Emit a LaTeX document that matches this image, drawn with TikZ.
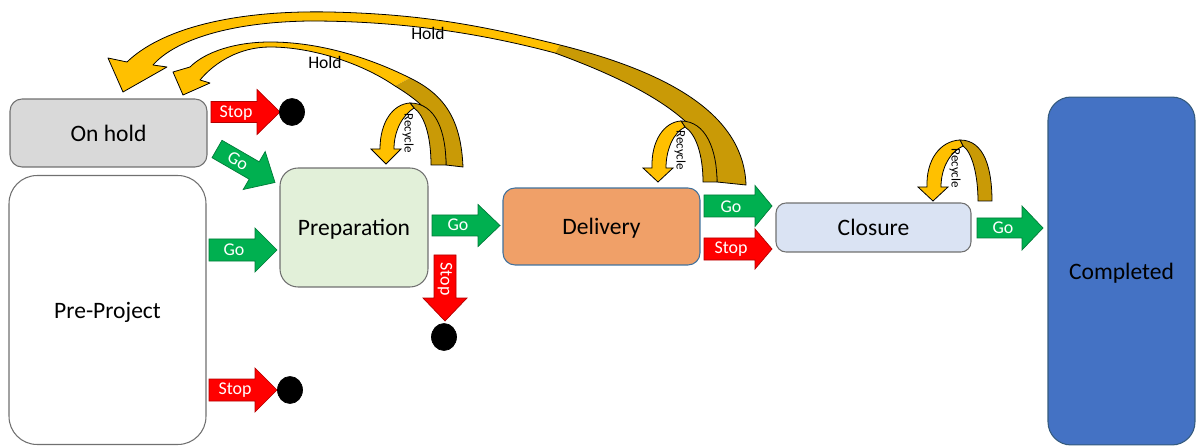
\documentclass[tikz,border=0pt]{standalone}
\usepackage{fontspec}
\setmainfont{Carlito}
\usetikzlibrary{shapes.geometric}

\definecolor{holdgray}{HTML}{D9D9D9}
\definecolor{prepgreen}{HTML}{E2F0D9}
\definecolor{delivorange}{HTML}{F0A068}
\definecolor{closblue}{HTML}{DAE3F3}
\definecolor{compblue}{HTML}{4472C4}
\definecolor{stopred}{HTML}{FF0000}
\definecolor{gogreen}{HTML}{00B050}
\definecolor{arcfront}{HTML}{FFC000}
\definecolor{arcback}{HTML}{C99A06}
\definecolor{edgegray}{HTML}{707070}
\definecolor{edgeblue}{HTML}{41719C}

% horizontal block arrow: tail x, head base x, tip x, centre y, shaft half, head half, colour
\newcommand\rightblock[7]{%
  \filldraw[blockedge=#7] (#1,#4-#5) -- (#2,#4-#5) -- (#2,#4-#6) -- (#3,#4)
    -- (#2,#4+#6) -- (#2,#4+#5) -- (#1,#4+#5) -- cycle;}

\begin{document}
\begin{tikzpicture}[x=0.02cm,y=-0.02cm,
  stage/.style={draw=edgegray, line width=0.6pt, inner sep=0pt, text depth=0pt,
    font=\fontsize{13.4}{15}\selectfont, text=black},
  blockedge/.style={fill=#1, draw=#1!70!black, line width=0.4pt},
  blocklabel/.style={text=white, inner sep=0pt, font=\fontsize{10.2}{12}\selectfont},
  endpoint/.style={ellipse, fill=black, draw=black, minimum width=0.5cm,
    minimum height=0.54cm, inner sep=0pt},
  arcline/.style={draw=black, line width=0.45pt},
  holdlabel/.style={inner sep=0pt, font=\fontsize{10}{12}\selectfont},
  recyclelabel/.style={inner sep=0pt, rotate=-90, font=\fontsize{7.4}{9}\selectfont}]

\useasboundingbox (0,0) rectangle (1198,446);

% ---- stages ----
\node[stage, fill=holdgray, rounded corners=0.24cm, minimum width=3.94cm,
  minimum height=1.36cm] (hold) at (108.5,133) {On hold};
\node[stage, fill=white, rounded corners=0.56cm, minimum width=3.94cm,
  minimum height=5.38cm] (pre) at (107.5,310) {Pre-Project};
\node[stage, fill=prepgreen, rounded corners=0.36cm, minimum width=2.96cm,
  minimum height=2.38cm] (prep) at (354,227.5) {Preparation};
\node[stage, draw=edgeblue, fill=delivorange, rounded corners=0.24cm,
  minimum width=3.94cm, minimum height=1.54cm] (deliv) at (601.5,226.5) {Delivery};
\node[stage, fill=closblue, rounded corners=0.2cm, minimum width=3.9cm,
  minimum height=0.98cm] (clos) at (873.5,227.5) {Closure};
\node[stage, draw=edgeblue!80!black, fill=compblue, rounded corners=0.46cm,
  minimum width=2.94cm, minimum height=6.96cm] (comp) at (1121.5,271) {Completed};

% ---- go / stop block arrows ----
\rightblock{211}{257}{280}{112}{10.5}{22.5}{stopred}
\node[blocklabel] (stophold) at (236,113) {Stop};
\node[endpoint] (endhold) at (292,112) {};

\filldraw[blockedge=gogreen] (222,140.3) -- (259.2,161.8) -- (265.2,151.5)
  -- (275,182.5) -- (243.2,189.5) -- (249.2,179.2) -- (212,157.7) -- cycle;
\node[blocklabel, rotate=-30] (gohold) at (238,161) {Go};

\rightblock{209}{255}{277}{250}{11}{22}{gogreen}
\node[blocklabel] (gopre) at (234,250) {Go};

\rightblock{209}{255}{277}{390}{11}{22}{stopred}
\node[blocklabel] (stoppre) at (235,390) {Stop};
\node[endpoint] (endpre) at (290,390) {};

\rightblock{432}{478}{500}{225.5}{10.5}{21}{gogreen}
\node[blocklabel] (goprep) at (458,225) {Go};

\filldraw[blockedge=stopred] (434,255) -- (456,255) -- (456,298) -- (467,298)
  -- (445,321) -- (423,298) -- (434,298) -- cycle;
\node[blocklabel, rotate=-90] (stopprep) at (445,279) {Stop};
\node[endpoint] (endprep) at (444,337) {};

\rightblock{704}{755}{772}{206}{11}{20.5}{gogreen}
\node[blocklabel] (godeliv) at (731,207) {Go};
\rightblock{704}{755}{772}{249}{11}{20}{stopred}
\node[blocklabel] (stopdeliv) at (731,249) {Stop};

\rightblock{977}{1022}{1043}{228}{10}{22}{gogreen}
\node[blocklabel] (goclos) at (1003,228) {Go};

% ---- hold arcs back to "On hold" ----
% long arc from delivery: front face, back face, then the outline without the seam
\fill[arcfront] (560,45) .. controls (480,25) and (420,14) .. (330,12)
  .. controls (230,10) and (160,30) .. (127,62) -- (108,58) -- (123,92) -- (167,67)
  -- (153,65) .. controls (175,40) and (230,22) .. (310,21)
  .. controls (400,21) and (480,33) .. (555,53) -- cycle;
\fill[arcback] (560,45) .. controls (680,75) and (744,120) .. (746,185)
  -- (717,182) .. controls (716,135) and (670,95) .. (555,53) -- cycle;
\draw[arcline, line join=round] (746,185) .. controls (744,120) and (680,75) .. (560,45)
  .. controls (480,25) and (420,14) .. (330,12)
  .. controls (230,10) and (160,30) .. (127,62) -- (108,58) -- (123,92) -- (167,67)
  -- (153,65) .. controls (175,40) and (230,22) .. (310,21)
  .. controls (400,21) and (480,33) .. (555,53)
  .. controls (670,95) and (716,135) .. (717,182) -- cycle;
\node[holdlabel] (holdlong) at (428,33) {Hold};

% short arc from preparation
\fill[arcfront] (410,78) .. controls (370,58) and (320,42) .. (270,42)
  .. controls (235,42) and (205,52) .. (190,67) -- (173,72) -- (183,95) -- (210,83)
  -- (200,80) .. controls (215,62) and (240,47) .. (270,47)
  .. controls (310,47) and (360,62) .. (395,86) -- cycle;
\fill[arcback] (410,78) .. controls (445,95) and (461,120) .. (463,167)
  -- (446,165) .. controls (445,125) and (428,106) .. (395,86) -- cycle;
\draw[arcline, line join=round] (463,167) .. controls (461,120) and (445,95) .. (410,78)
  .. controls (370,58) and (320,42) .. (270,42)
  .. controls (235,42) and (205,52) .. (190,67) -- (173,72) -- (183,95) -- (210,83)
  -- (200,80) .. controls (215,62) and (240,47) .. (270,47)
  .. controls (310,47) and (360,62) .. (395,86)
  .. controls (428,106) and (445,125) .. (446,165) -- cycle;
\node[holdlabel] (holdshort) at (325,62) {Hold};

% ---- recycle loops ----
% preparation
\filldraw[arcline, fill=arcback] (410,103) .. controls (436,103) and (446,132) .. (446,165)
  -- (431,165) .. controls (431,135) and (424,115) .. (414,108) -- cycle;
\filldraw[arcline, fill=arcfront] (380,149) .. controls (380,122) and (393,104) .. (410,103)
  -- (414,108) .. controls (403,115) and (394,130) .. (394,149) -- (401,149)
  -- (386,164) -- (371,149) -- cycle;
\node[recyclelabel] (recprep) at (408,133) {Recycle};

% delivery
\filldraw[arcline, fill=arcback] (681,121) .. controls (706,121) and (717,150) .. (717,182)
  -- (703,182) .. controls (703,155) and (696,134) .. (685,127) -- cycle;
\filldraw[arcline, fill=arcfront] (652,168) .. controls (651,141) and (664,122) .. (681,121)
  -- (685,127) .. controls (673,133) and (666,150) .. (666,168) -- (673,168)
  -- (658,182) -- (643,168) -- cycle;
\node[recyclelabel] (recdeliv) at (680,150) {Recycle};

% closure
\filldraw[arcline, fill=arcback] (960,140) .. controls (985,140) and (992,170) .. (992,201)
  -- (978,201) .. controls (978,175) and (972,152) .. (963,146) -- cycle;
\filldraw[arcline, fill=arcfront] (927,187) .. controls (926,160) and (940,141) .. (960,140)
  -- (963,146) .. controls (950,152) and (941,168) .. (941,187) -- (948,187)
  -- (933,201) -- (918,187) -- cycle;
\node[recyclelabel] (recclos) at (955,168) {Recycle};

\end{tikzpicture}
\end{document}
